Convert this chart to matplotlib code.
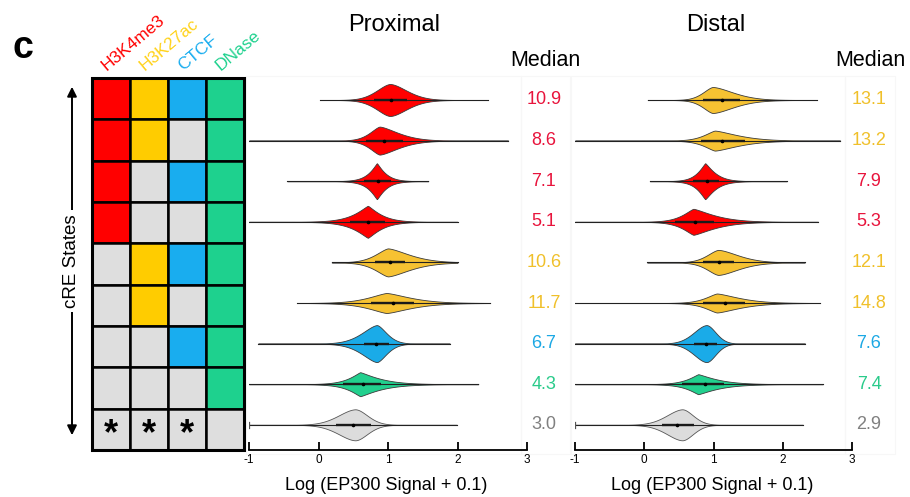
import numpy as np
import matplotlib
matplotlib.use("Agg")
import matplotlib.pyplot as plt
from matplotlib.patches import Rectangle, FancyArrowPatch
from matplotlib.transforms import blended_transform_factory

plt.rcParams['font.family'] = ['Liberation Sans', 'DejaVu Sans']

W, H = 910, 497

# ---- data -------------------------------------------------------------
marks = ["H3K4me3", "H3K27ac", "CTCF", "DNase"]
# 1 = mark present in the cRE state, 0 = absent
states = [
    [1, 1, 1, 1],
    [1, 1, 0, 1],
    [1, 0, 1, 1],
    [1, 0, 0, 1],
    [0, 1, 1, 1],
    [0, 1, 0, 1],
    [0, 0, 1, 1],
    [0, 0, 0, 1],
    [0, 0, 0, 0],
]
starred = [1, 1, 1, 0]   # last (unclassified) row

prox_group = ["r", "r", "r", "r", "y", "y", "b", "g", "k"]
dist_group = ["y", "y", "r", "r", "y", "y", "b", "g", "k"]

prox_median = [10.9, 8.6, 7.1, 5.1, 10.6, 11.7, 6.7, 4.3, 3.0]
dist_median = [13.1, 13.2, 7.9, 5.3, 12.1, 14.8, 7.6, 7.4, 2.9]

# violin outlines: mode, left/right reach of the body, half height (px), peak sharpness
prox_mode = [1.03, 0.88, 0.84, 0.71, 1.00, 0.98, 0.84, 0.60, 0.53]
prox_left = [0.58, 0.47, 0.43, 0.73, 0.59, 0.91, 0.67, 0.62, 0.70]
prox_right = [0.72, 0.87, 0.43, 0.65, 1.00, 1.16, 0.43, 1.00, 0.50]
prox_half = [16, 14, 18, 16, 14, 10, 18.5, 12, 15.5]
prox_sharp = [1.7, 1.5, 1.15, 1.2, 1.5, 1.4, 1.6, 1.2, 1.8]
prox_min = [0.02, -1.0, -0.45, -1.0, 0.19, -0.31, -0.87, -1.0, -1.0]
prox_max = [2.44, 2.73, 1.58, 2.00, 2.00, 2.47, 1.89, 2.30, 1.99]
prox_q1 = [0.80, 0.68, 0.65, 0.45, 0.82, 0.75, 0.65, 0.35, 0.25]
prox_q3 = [1.28, 1.22, 1.05, 0.95, 1.25, 1.38, 1.02, 0.90, 0.75]

dist_mode = [0.99, 1.02, 0.88, 0.71, 1.07, 1.05, 0.90, 0.78, 0.55]
dist_left = [0.45, 0.55, 0.41, 0.58, 0.51, 0.58, 0.53, 0.60, 0.65]
dist_right = [0.93, 1.13, 0.50, 1.06, 0.89, 1.10, 0.38, 0.99, 0.45]
dist_half = [13, 10, 18, 13, 12.5, 9.5, 18.5, 10, 15.5]
dist_sharp = [1.6, 1.4, 1.2, 1.3, 1.6, 1.4, 1.8, 1.2, 1.8]
dist_min = [0.05, -1.0, 0.08, -1.0, 0.04, -1.0, -1.0, -1.0, -1.0]
dist_max = [2.49, 2.83, 2.06, 2.51, 2.32, 2.54, 2.32, 2.58, 2.29]
dist_q1 = [0.85, 0.82, 0.70, 0.45, 0.85, 0.85, 0.72, 0.55, 0.25]
dist_q3 = [1.38, 1.45, 1.08, 1.00, 1.30, 1.45, 1.05, 1.15, 0.72]

xticks = [-1, 0, 1, 2, 3]
xtick_labels = ["-1", "0", "1", "2", "3"]

# ---- styling ----------------------------------------------------------
cell_on = ["#FF0000", "#FFCC00", "#19ADEF", "#1ED18E"]
cell_off = "#DEDEDE"
head_col = ["#FF0000", "#FFD21A", "#19ADEF", "#1ED18E"]
fill_col = {"r": "#FF0000", "y": "#F6C232", "b": "#1AABE8", "g": "#22D08E", "k": "#DCDCDC"}
text_col = {"r": "#E8143C", "y": "#F0C02A", "b": "#1CA8E4", "g": "#2ACB8B", "k": "#808080"}

fig = plt.figure(figsize=(W / 100, H / 100), dpi=100)


def px_axes(x0, y0, x1, y1):
    return fig.add_axes([x0 / W, 1 - y1 / H, (x1 - x0) / W, (y1 - y0) / H])


def fx(x):
    return x / W


def fy(y):
    return 1 - y / H


# faint panel frames behind the violins and median columns
for (a, b, c, d) in [(246, 76, 521, 454), (521, 76, 570, 454),
                     (571, 76, 845, 454), (845, 76, 895, 454)]:
    fig.add_artist(Rectangle((fx(a), fy(d)), fx(c) - fx(a), fy(b) - fy(d),
                             transform=fig.transFigure, fill=False,
                             edgecolor="#F7F7F7", linewidth=0.8, zorder=0))

# ---- state grid -------------------------------------------------------
gx = px_axes(92, 78, 244, 450)
nrow, ncol = len(states), len(marks)
for i, row in enumerate(states):
    for j, v in enumerate(row):
        gx.add_patch(Rectangle((j, i), 1, 1, facecolor=cell_on[j] if v else cell_off,
                               edgecolor="black", linewidth=1.8))
for j, s in enumerate(starred):
    if s:
        gx.text(j + 0.5, nrow - 0.38, "*", ha="center", va="center",
                fontsize=26, fontweight="bold", color="black")
gx.set_xlim(0, ncol)
gx.set_ylim(nrow, 0)
gx.axis("off")
gx.add_patch(Rectangle((0, 0), ncol, nrow, fill=False, edgecolor="black",
                       linewidth=2.2, clip_on=False))

# column headers
for j, m in enumerate(marks):
    cx = 92 + 38 * (j + 0.5)
    fig.text(fx(cx - 4), fy(71), m, rotation=40, rotation_mode="anchor",
             ha="left", va="baseline", fontsize=12.5, color=head_col[j])

fig.text(fx(12), fy(58), "c", fontsize=27, fontweight="bold", ha="left", va="baseline")

# state axis arrow
arrow = FancyArrowPatch((fx(72), fy(84)), (fx(72), fy(438)), transform=fig.transFigure,
                        arrowstyle="<|-|>", mutation_scale=14, linewidth=1.4, color="black")
fig.add_artist(arrow)
fig.text(fx(72), fy(261), "cRE States", rotation=90, ha="center", va="center", fontsize=13.5,
         bbox=dict(facecolor="white", edgecolor="none", pad=3))


# ---- violins ----------------------------------------------------------
ROW0, ROWSTEP = 100.0, 40.6


def draw_panel(x0, x1, title, title_x, groups, medians, mode, left, right, half, sharp,
               vmin, vmax, q1, q3, med_x, xlabel_x):
    ax = px_axes(x0, 80, x1, 450)
    ax.patch.set_alpha(0)
    for i in range(len(groups)):
        xs = np.linspace(vmin[i], vmax[i], 600)
        dx = xs - mode[i]
        reach = np.where(dx < 0, left[i], right[i])
        dens = np.exp(-3.5 * (np.abs(dx) / reach) ** sharp[i])
        hw = dens * half[i] / ROWSTEP
        g = groups[i]
        edge = "#555555" if g == "k" else "#3a3a3a"
        ax.fill_between(xs, i - hw, i + hw, facecolor=fill_col[g], edgecolor=edge,
                        linewidth=0.6, zorder=2)
        ax.plot([vmin[i], vmax[i]], [i, i], color="#222222", linewidth=0.8, zorder=3)
        ax.plot([q1[i], q3[i]], [i, i], color="#1a1a1a", linewidth=1.7,
                solid_capstyle="butt", zorder=4)
        med = np.log10(medians[i] + 0.1)
        ax.plot([med], [i], marker="o", markersize=1.6, color="#000000", zorder=5)
        if g == "k":
            ax.plot([vmin[i], vmin[i]], [i - 0.07, i + 0.07], color="#555555",
                    linewidth=0.9, zorder=3)
    ax.set_xlim(-1, 3)
    ax.set_ylim((450 - ROW0) / ROWSTEP, (80 - ROW0) / ROWSTEP)
    for s in ["top", "right", "left"]:
        ax.spines[s].set_visible(False)
    ax.spines["bottom"].set_linewidth(1.3)
    ax.set_yticks([])
    ax.set_xticks(xticks)
    ax.set_xticklabels(xtick_labels)
    ax.tick_params(axis="x", direction="in", length=6, width=1.3, labelsize=8.5, pad=3)

    trans = blended_transform_factory(fig.transFigure, ax.transData)
    for i, (g, m) in enumerate(zip(groups, medians)):
        ax.text(fx(med_x), i, f"{m:.1f}", transform=trans, ha="center", va="center",
                fontsize=13, color=text_col[g], clip_on=False)
    fig.text(fx(med_x + 1), fy(60), "Median", ha="center", va="center", fontsize=15.5)
    fig.text(fx(title_x), fy(25), title, ha="center", va="center", fontsize=17)
    fig.text(fx(xlabel_x), fy(486), "Log (EP300 Signal + 0.1)", ha="center", va="center",
             fontsize=13)
    return ax


draw_panel(249, 527, "Proximal", 394, prox_group, prox_median, prox_mode, prox_left,
           prox_right, prox_half, prox_sharp, prox_min, prox_max, prox_q1, prox_q3,
           544, 386)
draw_panel(575, 852, "Distal", 716, dist_group, dist_median, dist_mode, dist_left,
           dist_right, dist_half, dist_sharp, dist_min, dist_max, dist_q1, dist_q3,
           869, 712)

fig.savefig("out.png", dpi=100)
